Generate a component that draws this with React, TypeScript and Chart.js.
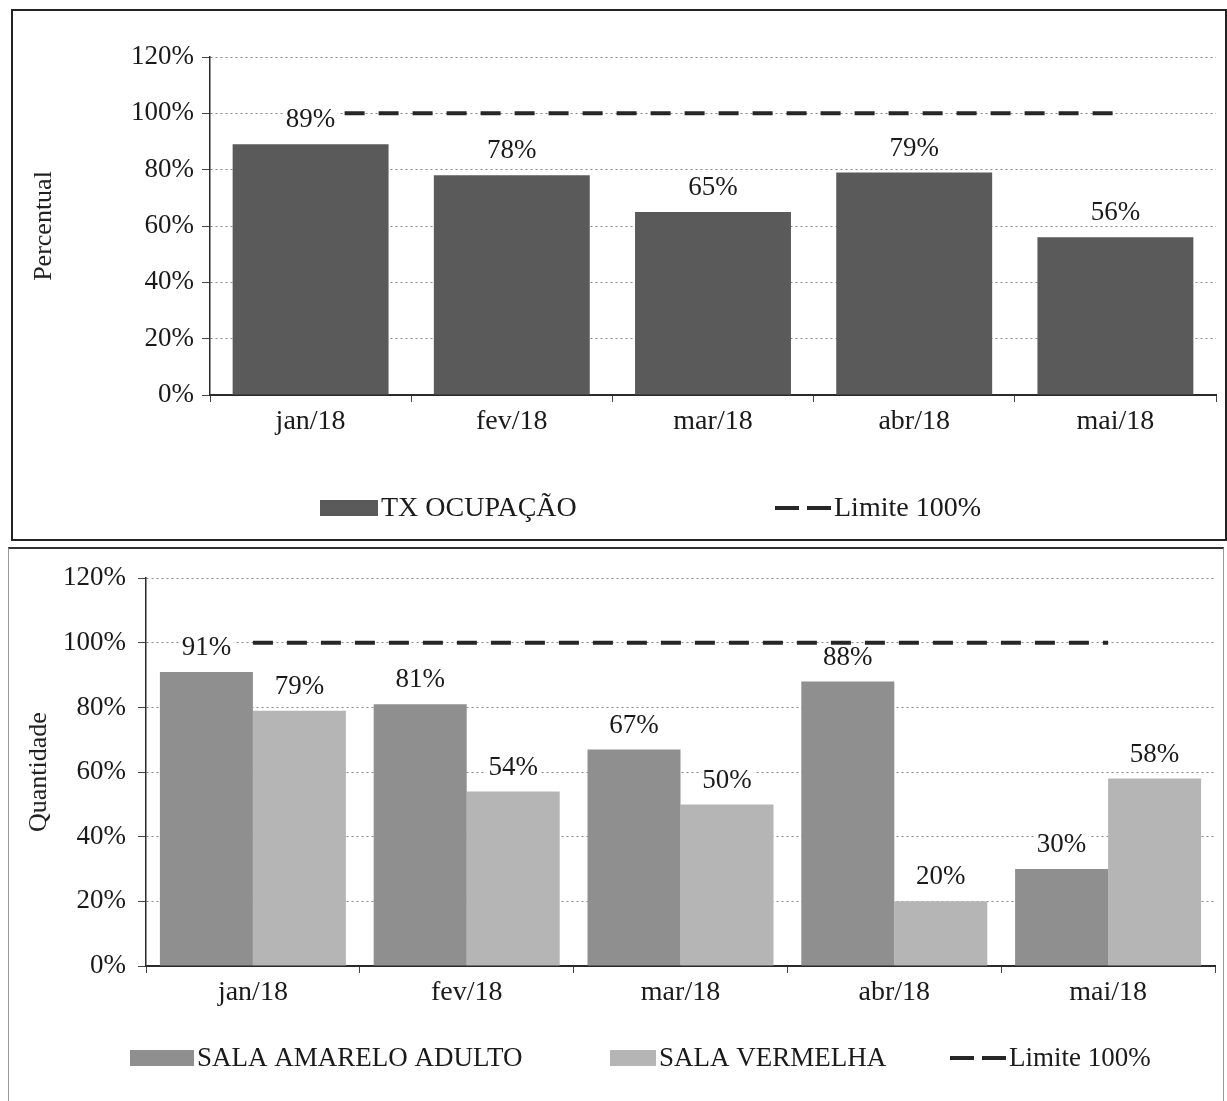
import React, { useEffect, useRef } from 'react';
import { Chart, registerables } from 'chart.js';

Chart.register(...registerables);

// ---------- data ----------
const months = ['jan/18', 'fev/18', 'mar/18', 'abr/18', 'mai/18'];
const txOcupacao = [89, 78, 65, 79, 56];
const limiteTop = [100, 100, 100, 100, 100];
const salaAmareloAdulto = [91, 81, 67, 88, 30];
const salaVermelha = [79, 54, 50, 20, 58];
const limiteBottom = [100, 100, 100, 100, 100];
const yMin = 0;
const yMax = 120;
const yStep = 20;

const FONT = '"Liberation Serif", "Times New Roman", serif';

// value labels above bars, with white backing
const valueLabels = {
  id: 'valueLabels',
  afterDatasetsDraw(chart: any, _args: any, opts: any) {
    const ctx = chart.ctx;
    ctx.save();
    ctx.font = `${opts.size}px ${FONT}`;
    ctx.textAlign = 'center';
    ctx.textBaseline = 'middle';
    chart.data.datasets.forEach((ds: any, i: number) => {
      if (ds.type === 'line') return;
      const meta = chart.getDatasetMeta(i);
      meta.data.forEach((el: any, j: number) => {
        const txt = ds.data[j] + '%';
        const x = el.x;
        const y = el.y - opts.offset;
        const w = ctx.measureText(txt).width;
        ctx.fillStyle = '#ffffff';
        ctx.fillRect(x - w / 2 - 2, y - opts.size * 0.42, w + 4, opts.size * 0.84);
        ctx.fillStyle = '#1a1a1a';
        ctx.fillText(txt, x, y);
      });
    });
    ctx.restore();
  },
};

// legend drawn on canvas from the datasets
const customLegend = {
  id: 'customLegend',
  afterDraw(chart: any, _args: any, opts: any) {
    const ctx = chart.ctx;
    ctx.save();
    ctx.font = `${opts.size}px ${FONT}`;
    ctx.textAlign = 'left';
    ctx.textBaseline = 'middle';
    chart.data.datasets.forEach((ds: any, i: number) => {
      const x = opts.starts[i];
      const y = opts.y;
      const sw = opts.swatches[i];
      if (ds.type === 'line') {
        ctx.strokeStyle = ds.borderColor;
        ctx.lineWidth = ds.borderWidth;
        ctx.setLineDash(opts.dash);
        ctx.beginPath();
        ctx.moveTo(x, y);
        ctx.lineTo(x + sw, y);
        ctx.stroke();
        ctx.setLineDash([]);
      } else {
        ctx.fillStyle = ds.backgroundColor;
        ctx.fillRect(x, y - opts.boxH / 2, sw, opts.boxH);
      }
      ctx.fillStyle = '#1a1a1a';
      ctx.fillText(ds.label, x + sw + opts.gap, y + 1);
    });
    ctx.restore();
  },
};

function makeScales(yTitle: string, yWidth: number, titlePad: number, xHeight: number, tickPad: number) {
  return {
    x: {
      grid: {
        display: true,
        drawOnChartArea: false,
        drawTicks: true,
        tickLength: 7,
        tickColor: '#444',
        offset: true,
      },
      border: { display: true, color: '#2a2a2a', width: 2 },
      ticks: {
        font: { family: FONT, size: 28 },
        color: '#1a1a1a',
        padding: 3,
        maxRotation: 0,
        autoSkip: false,
      },
      afterFit: (s: any) => {
        s.height = xHeight;
      },
    },
    y: {
      min: yMin,
      max: yMax,
      ticks: {
        stepSize: yStep,
        callback: (v: any) => v + '%',
        font: { family: FONT, size: 27 },
        color: '#1a1a1a',
        padding: tickPad,
      },
      grid: {
        color: (c: any) => (c.tick && c.tick.value === 0 ? 'rgba(0,0,0,0)' : '#8a8a8a'),
        lineWidth: 1,
        drawTicks: true,
        tickLength: 8,
        tickColor: '#444',
        tickBorderDash: [],
      },
      border: { display: true, color: '#2a2a2a', width: 1.5, dash: [2, 3] },
      title: {
        display: true,
        text: yTitle,
        font: { family: FONT, size: 26 },
        color: '#222',
        padding: { top: titlePad, bottom: 0 },
      },
      afterFit: (s: any) => {
        s.width = yWidth;
      },
    },
  };
}

const topConfig = (): any => ({
  type: 'bar',
  data: {
    labels: months,
    datasets: [
      {
        type: 'bar',
        label: 'TX OCUPAÇÃO',
        data: txOcupacao,
        backgroundColor: '#5a5a5a',
        barPercentage: 0.775,
        categoryPercentage: 1,
        order: 2,
      },
      {
        type: 'line',
        label: 'Limite 100%',
        data: limiteTop,
        borderColor: '#262626',
        borderWidth: 4,
        borderDash: [20, 14],
        pointRadius: 0,
        fill: false,
        order: 1,
      },
    ],
  },
  options: {
    animation: false,
    responsive: true,
    maintainAspectRatio: false,
    layout: { padding: { top: 45, left: 0, right: 7, bottom: 93 } },
    plugins: {
      legend: { display: false },
      tooltip: { enabled: false },
      valueLabels: { size: 27, offset: 24 },
      customLegend: {
        size: 28,
        y: 496,
        starts: [306, 761],
        swatches: [58, 56],
        boxH: 16,
        gap: 3,
        dash: [24, 8],
      },
    },
    scales: makeScales('Percentual', 196, 15, 50, 8),
  },
  plugins: [valueLabels, customLegend],
});

const bottomConfig = (): any => ({
  type: 'bar',
  data: {
    labels: months,
    datasets: [
      {
        type: 'bar',
        label: 'SALA AMARELO ADULTO',
        data: salaAmareloAdulto,
        backgroundColor: '#8f8f8f',
        barPercentage: 1,
        categoryPercentage: 0.87,
        order: 2,
      },
      {
        type: 'bar',
        label: 'SALA VERMELHA',
        data: salaVermelha,
        backgroundColor: '#b5b5b5',
        barPercentage: 1,
        categoryPercentage: 0.87,
        order: 3,
      },
      {
        type: 'line',
        label: 'Limite 100%',
        data: limiteBottom,
        borderColor: '#262626',
        borderWidth: 4,
        borderDash: [20, 14],
        pointRadius: 0,
        fill: false,
        order: 1,
      },
    ],
  },
  options: {
    animation: false,
    responsive: true,
    maintainAspectRatio: false,
    layout: { padding: { top: 26, left: 0, right: 7, bottom: 85 } },
    plugins: {
      legend: { display: false },
      tooltip: { enabled: false },
      valueLabels: { size: 27, offset: 24 },
      customLegend: {
        size: 27,
        y: 508,
        starts: [120, 600, 940],
        swatches: [64, 46, 56],
        boxH: 16,
        gap: 3,
        dash: [24, 8],
      },
    },
    scales: makeScales('Quantidade', 136, 14, 50, 12),
  },
  plugins: [valueLabels, customLegend],
});

function ChartBox({ make, left, top, width, height }: any) {
  const ref = useRef<HTMLCanvasElement>(null);
  useEffect(() => {
    const chart = new Chart(ref.current as HTMLCanvasElement, make());
    return () => chart.destroy();
  }, []);
  return (
    <div style={{ position: 'absolute', left, top, width, height }}>
      <canvas ref={ref} />
    </div>
  );
}

export default function App() {
  return (
    <div
      style={{
        position: 'absolute',
        left: 0,
        top: 0,
        width: 1227,
        height: 1101,
        overflow: 'hidden',
        background: '#ffffff',
        fontFamily: FONT,
      }}
    >
      <div
        style={{
          position: 'absolute',
          left: 11,
          top: 9,
          width: 1212,
          height: 528,
          border: '2px solid #222',
        }}
      />
      <div
        style={{
          position: 'absolute',
          left: 8,
          top: 547,
          width: 1214,
          height: 600,
          borderTop: '2px solid #333',
          borderLeft: '1px solid #999',
          borderRight: '1px solid #999',
        }}
      />
      <ChartBox make={topConfig} left={14} top={12} width={1209} height={526} />
      <ChartBox make={bottomConfig} left={10} top={550} width={1212} height={551} />
    </div>
  );
}
